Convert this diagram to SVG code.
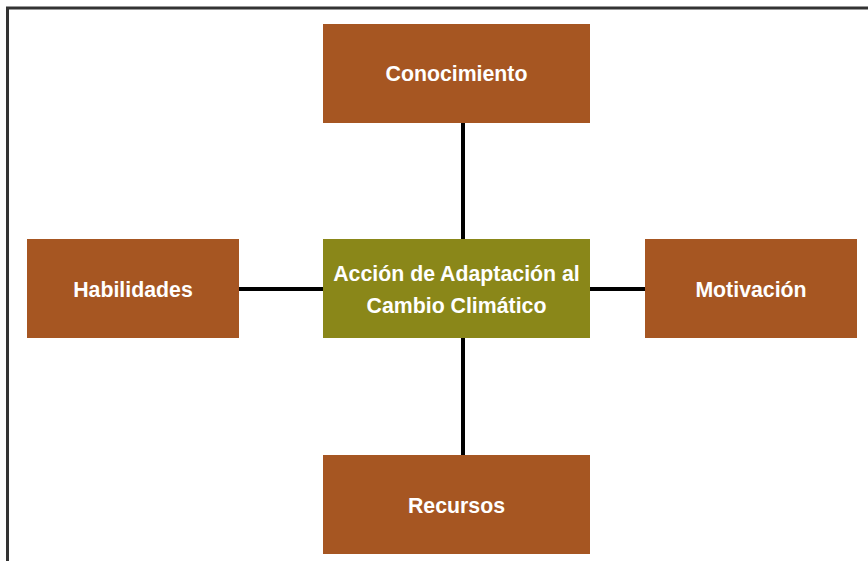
<svg xmlns="http://www.w3.org/2000/svg" width="868" height="561" viewBox="0 0 868 561">
<style>
.node{fill:#A65622}
.core{fill:#8A8719}
.lbl{font-family:"Liberation Sans",Arial,sans-serif;font-weight:bold;font-size:21.3px;fill:#fff;text-anchor:middle}
.conn{stroke:#000;stroke-width:4;fill:none}
</style>
<rect x="0" y="0" width="868" height="561" fill="#fff"/>
<rect x="7.5" y="8" width="880" height="570" fill="none" stroke="#333" stroke-width="3"/>
<g id="connectors">
<line class="conn" x1="463" y1="122" x2="463" y2="239"/>
<line class="conn" x1="463" y1="338" x2="463" y2="455"/>
<line class="conn" x1="239" y1="289" x2="323" y2="289"/>
<line class="conn" x1="590" y1="289" x2="645" y2="289"/>
</g>
<g id="conocimiento">
<rect class="node" x="323" y="24" width="267" height="99"/>
<text class="lbl" x="456.5" y="81">Conocimiento</text>
</g>
<g id="habilidades">
<rect class="node" x="27" y="239" width="212" height="99"/>
<text class="lbl" x="133" y="297">Habilidades</text>
</g>
<g id="accion">
<rect class="core" x="323" y="239" width="267" height="99"/>
<text class="lbl" x="456.5" y="281">Acción de Adaptación al</text>
<text class="lbl" x="456.5" y="313">Cambio Climático</text>
</g>
<g id="motivacion">
<rect class="node" x="645" y="239" width="212" height="99"/>
<text class="lbl" x="751" y="297">Motivación</text>
</g>
<g id="recursos">
<rect class="node" x="323" y="455" width="267" height="99"/>
<text class="lbl" x="456.5" y="513">Recursos</text>
</g>
</svg>
